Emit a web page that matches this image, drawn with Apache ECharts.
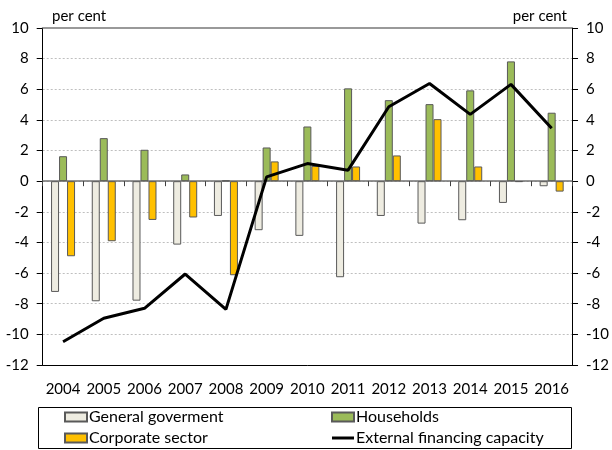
<!DOCTYPE html>
<html>
<head>
<meta charset="utf-8">
<script src="https://cdn.jsdelivr.net/npm/echarts@6/dist/echarts.min.js"></script>
<style>html,body{margin:0;padding:0;background:#fff}#c{width:612px;height:450px}</style>
</head>
<body>
<div id="c"></div>
<script>
const years = ['2004','2005','2006','2007','2008','2009','2010','2011','2012','2013','2014','2015','2016'];
const generalGov = [-7.23,-7.84,-7.8,-4.14,-2.27,-3.2,-3.57,-6.27,-2.27,-2.77,-2.55,-1.42,-0.33];
const households = [1.63,2.81,2.05,0.44,0.04,2.2,3.57,6.06,5.29,5.03,5.93,7.82,4.47];
const corporate = [-4.9,-3.92,-2.53,-2.37,-6.14,1.29,1.0,0.96,1.68,4.05,0.96,-0.05,-0.68];
const externalCap = [-10.48,-8.95,-8.3,-6.06,-8.37,0.28,1.15,0.72,4.86,6.38,4.36,6.32,3.46];
const yMin = -12, yMax = 10, yStep = 2;

const FONT = 'Lato';
const chart = echarts.init(document.getElementById('c'), null, {renderer:'canvas'});
const barBorder = {borderColor:'#595959', borderWidth:1};
const legendText = {fontFamily:FONT, fontSize:16, color:'#000', padding:[0,0,0,-3]};
chart.setOption({
  animation:false,
  textStyle:{fontFamily:FONT},
  title:[
    {text:'per cent', left:47, top:4, textStyle:{fontFamily:FONT, fontSize:15, fontWeight:'normal', color:'#000'}},
    {text:'per cent', right:40, top:4, textStyle:{fontFamily:FONT, fontSize:15, fontWeight:'normal', color:'#000'}}
  ],
  grid:{left:42.7, right:37, top:28, bottom:85, containLabel:false},
  legend:[
    {data:[{name:'General goverment', icon:'rect'},{name:'Corporate sector', icon:'rect'}], orient:'vertical', left:64, top:409, height:80, itemGap:5,
     itemWidth:22, itemHeight:9, padding:0, textStyle:legendText},
    {data:[{name:'Households', icon:'rect'},{name:'External financing capacity', icon:'path://M0,0 H22 V3 H0 Z', itemStyle:{color:'#000', borderWidth:0}}],
     orient:'vertical', left:331, top:409, height:80, itemGap:5,
     itemWidth:22, itemHeight:9, padding:0, textStyle:legendText}
  ],
  graphic:[
    {type:'rect', shape:{x:38.5, y:407.5, width:533, height:41}, style:{fill:'none', stroke:'#000', lineWidth:1}, silent:true}
  ],
  xAxis:[
    {type:'category', data:years, position:'bottom', axisLine:{onZero:false, lineStyle:{color:'#000', width:1}},
     axisTick:{show:false}, axisLabel:{interval:0, fontFamily:FONT, fontSize:15, color:'#000', margin:17}, splitLine:{show:false}},
    {type:'category', data:years, position:'bottom', axisLine:{onZero:true, lineStyle:{color:'#707070', width:1.5}},
     axisTick:{show:true, length:5, lineStyle:{color:'#404040'}}, axisLabel:{show:false}, splitLine:{show:false}},
    {type:'category', data:years, position:'top', axisLine:{onZero:false, lineStyle:{color:'#999', width:2}},
     axisTick:{show:false}, axisLabel:{show:false}, splitLine:{show:false}}
  ],
  yAxis:[
    {type:'value', min:yMin, max:yMax, interval:yStep, position:'left',
     axisLine:{show:true, lineStyle:{color:'#000', width:1}}, axisTick:{show:true, length:6, lineStyle:{color:'#000'}},
     axisLabel:{fontFamily:FONT, fontSize:15, color:'#000', margin:14},
     splitLine:{show:true, lineStyle:{color:'#bfbfbf', type:[2,2], width:1}}},
    {type:'value', min:yMin, max:yMax, interval:yStep, position:'right',
     axisLine:{show:true, lineStyle:{color:'#000', width:1}}, axisTick:{show:true, length:6, lineStyle:{color:'#000'}},
     axisLabel:{fontFamily:FONT, fontSize:15, color:'#000', margin:14, align:'left'},
     splitLine:{show:false}}
  ],
  series:[
    {name:'General goverment', type:'bar', data:generalGov, barWidth:8, barGap:'0%', itemStyle:Object.assign({color:'#EEECE1'}, barBorder)},
    {name:'Households', type:'bar', data:households, barWidth:8, barGap:'0%', itemStyle:Object.assign({color:'#9BBB59'}, barBorder)},
    {name:'Corporate sector', type:'bar', data:corporate, barWidth:8, barGap:'0%', itemStyle:Object.assign({color:'#FFC000'}, barBorder)},
    {name:'External financing capacity', type:'line', data:externalCap, symbol:'none', z:10,
     lineStyle:{color:'#000', width:3}, itemStyle:{color:'#000'}}
  ]
});
</script>
</body>
</html>
